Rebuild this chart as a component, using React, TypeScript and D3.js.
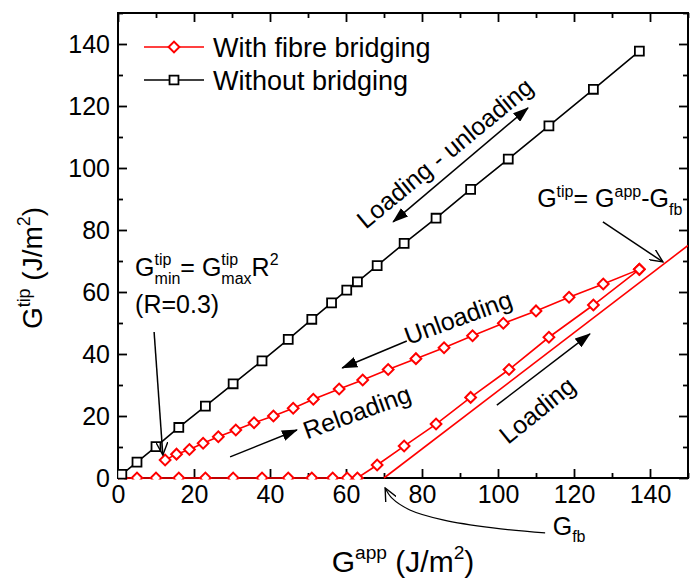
import React, { useEffect, useRef } from "react";
import * as d3 from "d3";

const W = 693;
const H = 583;
const margin = { top: 13, right: 5, bottom: 105, left: 118 };

const xTicks = [0, 20, 40, 60, 80, 100, 120, 140];
const yTicks = [0, 20, 40, 60, 80, 100, 120, 140];
const minorTicks = [10, 30, 50, 70, 90, 110, 130, 150];

// without bridging (loading - unloading)
const noBridgeX = [1, 5, 10, 16, 23, 30.3, 37.9, 44.8, 51, 56.2, 60.2, 63, 68.2, 75.3, 83.7, 92.8, 102.7, 113.4, 125.1, 137.2];
const noBridgeY = [1.2, 5.1, 10.1, 16.3, 23.2, 30.4, 37.8, 44.7, 51.2, 56.5, 60.6, 63.3, 68.5, 75.7, 83.8, 93.1, 102.9, 113.6, 125.4, 137.7];

// with fibre bridging, loading branch
const loadX = [1, 5, 10, 16, 23, 30.3, 37.9, 44.8, 51, 56.5, 60.3, 63, 68.2, 75.3, 83.7, 92.8, 102.9, 113.4, 125.1, 137.2];
const loadY = [0, 0, 0, 0, 0, 0, 0, 0, 0, 0, 0, 0, 4.2, 10.3, 17.4, 26, 35, 45.4, 55.8, 67.3];

// with fibre bridging, unloading / reloading branch
const unloadX = [137.2, 127.7, 118.7, 110, 101.4, 93.3, 85.8, 78.4, 71.1, 64.4, 58.2, 51.4, 46.1, 40.9, 35.8, 31, 26.4, 22.4, 18.8, 15.4, 12.4];
const unloadY = [67.3, 62.6, 58.3, 53.9, 49.9, 45.9, 42, 38.5, 35, 31.6, 28.7, 25.4, 22.5, 20, 17.8, 15.5, 13.3, 11.2, 9.2, 7.7, 5.8];

// G_tip = G_app - G_fb
const fbLineX = [70, 150];
const fbLineY = [0, 75];

// G_fb pointer curve
const fbCurveX = [112.4, 98.7, 85.5, 76.8, 72.1, 70.3];
const fbCurveY = [-17.7, -16.1, -13.5, -10.3, -6.5, -3.2];

const FONT = "'Liberation Sans', Arial, Helvetica, sans-serif";

type Part = { t: string; k?: "sup" | "sub" | "supsub"; t2?: string };

// lays text pieces one after another, measuring each
function richText(g: any, x: number, y: number, parts: Part[], size: number, anchor = "start") {
  const grp = g.append("g");
  let cx = 0;
  const small = size * 0.64;
  const put = (txt: string, dx: number, dy: number, fs: number) => {
    const t = grp.append("text").attr("x", dx).attr("y", dy).attr("font-size", fs).attr("font-family", FONT)
      .attr("fill", "#000").style("white-space", "pre").text(txt);
    return (t.node() as SVGTextElement).getComputedTextLength();
  };
  parts.forEach((p) => {
    if (!p.k) cx += put(p.t, cx, 0, size);
    else if (p.k === "sup") cx += put(p.t, cx, -size * 0.42, small);
    else if (p.k === "sub") cx += put(p.t, cx, size * 0.3, small);
    else {
      const a = put(p.t, cx, -size * 0.42, small);
      const b = put(p.t2 || "", cx, size * 0.32, small);
      cx += Math.max(a, b);
    }
  });
  const off = anchor === "middle" ? -cx / 2 : anchor === "end" ? -cx : 0;
  grp.attr("transform", `translate(${x + off},${y})`);
  return grp;
}

export default function App() {
  const ref = useRef<SVGSVGElement>(null);

  useEffect(() => {
    const svg = d3.select(ref.current);
    svg.selectAll("*").remove();

    const x = d3.scaleLinear().domain([0, 150]).range([margin.left, W - margin.right]);
    const y = d3.scaleLinear().domain([0, 150]).range([H - margin.bottom, margin.top]);
    const x0 = margin.left, x1 = W - margin.right, y0 = H - margin.bottom, y1 = margin.top;

    const defs = svg.append("defs");
    defs.append("clipPath").attr("id", "plotclip").append("rect")
      .attr("x", x0).attr("y", y1).attr("width", x1 - x0).attr("height", y0 - y1 + 1.5);
    defs.append("marker").attr("id", "ahFill").attr("viewBox", "0 0 16 11").attr("refX", 15).attr("refY", 5.5)
      .attr("markerWidth", 16).attr("markerHeight", 11).attr("markerUnits", "userSpaceOnUse").attr("orient", "auto-start-reverse")
      .append("path").attr("d", "M0,0 L16,5.5 L0,11 Z").attr("fill", "#000");
    defs.append("marker").attr("id", "ahOpen").attr("viewBox", "0 0 14 12").attr("refX", 13).attr("refY", 6)
      .attr("markerWidth", 14).attr("markerHeight", 12).attr("markerUnits", "userSpaceOnUse").attr("orient", "auto")
      .append("path").attr("d", "M0,0 L13,6 L0,12").attr("fill", "none").attr("stroke", "#000").attr("stroke-width", 1.4);

    // axes, ticks inward on all four sides
    const styleAxis = (g: any) => {
      g.select(".domain").remove();
      g.selectAll("line").attr("stroke", "#000").attr("stroke-width", 1.8);
      g.selectAll("text").attr("font-size", 25).attr("font-family", FONT).attr("fill", "#000");
    };
    svg.append("g").attr("transform", `translate(0,${y0})`)
      .call(d3.axisBottom(x).tickValues(xTicks).tickSize(-9).tickPadding(7).tickFormat(d3.format("d")) as any).call(styleAxis);
    svg.append("g").attr("transform", `translate(0,${y0})`)
      .call(d3.axisBottom(x).tickValues(minorTicks).tickSize(-5).tickFormat(() => "") as any).call(styleAxis);
    svg.append("g").attr("transform", `translate(0,${y1})`)
      .call(d3.axisTop(x).tickValues(xTicks).tickSize(-9).tickFormat(() => "") as any).call(styleAxis);
    svg.append("g").attr("transform", `translate(0,${y1})`)
      .call(d3.axisTop(x).tickValues(minorTicks).tickSize(-5).tickFormat(() => "") as any).call(styleAxis);
    svg.append("g").attr("transform", `translate(${x0},0)`)
      .call(d3.axisLeft(y).tickValues(yTicks).tickSize(-9).tickPadding(8).tickFormat(d3.format("d")) as any).call(styleAxis);
    svg.append("g").attr("transform", `translate(${x0},0)`)
      .call(d3.axisLeft(y).tickValues(minorTicks).tickSize(-5).tickFormat(() => "") as any).call(styleAxis);
    svg.append("g").attr("transform", `translate(${x1},0)`)
      .call(d3.axisRight(y).tickValues(yTicks).tickSize(-9).tickFormat(() => "") as any).call(styleAxis);
    svg.append("g").attr("transform", `translate(${x1},0)`)
      .call(d3.axisRight(y).tickValues(minorTicks).tickSize(-5).tickFormat(() => "") as any).call(styleAxis);

    svg.append("rect").attr("x", x0).attr("y", y1).attr("width", x1 - x0).attr("height", y0 - y1)
      .attr("fill", "none").attr("stroke", "#000").attr("stroke-width", 2);

    // data
    const plot = svg.append("g").attr("clip-path", "url(#plotclip)");
    const line = d3.line<[number, number]>().x((d) => x(d[0])).y((d) => y(d[1]));
    const zip = (a: number[], b: number[]) => a.map((v, i) => [v, b[i]] as [number, number]);

    const square = d3.symbol().type(d3.symbolSquare).size(80);
    const diamond = d3.symbol().type(d3.symbolSquare).size(58);

    plot.append("path").attr("d", line(zip(fbLineX, fbLineY))).attr("fill", "none").attr("stroke", "#ff0000").attr("stroke-width", 1.6);

    const redSeries = [zip(loadX, loadY), zip(unloadX, unloadY)];
    redSeries.forEach((pts) => {
      plot.append("path").attr("d", line(pts)).attr("fill", "none").attr("stroke", "#ff0000").attr("stroke-width", 1.6);
    });
    redSeries.forEach((pts) => {
      plot.selectAll(null).data(pts).join("path").attr("d", diamond as any)
        .attr("transform", (d) => `translate(${x(d[0])},${y(d[1])}) rotate(45)`)
        .attr("fill", "#fff").attr("stroke", "#ff0000").attr("stroke-width", 2);
    });

    const blk = zip(noBridgeX, noBridgeY);
    plot.append("path").attr("d", line(blk)).attr("fill", "none").attr("stroke", "#000").attr("stroke-width", 1.6);
    plot.selectAll(null).data(blk).join("path").attr("d", square as any)
      .attr("transform", (d) => `translate(${x(d[0])},${y(d[1])})`)
      .attr("fill", "#fff").attr("stroke", "#000").attr("stroke-width", 1.8);

    // legend
    const legend = [
      { label: "With fibre bridging", color: "#ff0000", sym: diamond, rot: 45, sw: 2 },
      { label: "Without bridging", color: "#000", sym: square, rot: 0, sw: 1.8 },
    ];
    legend.forEach((d, i) => {
      const ly = 47 + i * 33;
      svg.append("line").attr("x1", 144).attr("x2", 204).attr("y1", ly).attr("y2", ly).attr("stroke", d.color).attr("stroke-width", 1.6);
      svg.append("path").attr("d", d.sym as any).attr("transform", `translate(174,${ly}) rotate(${d.rot})`)
        .attr("fill", "#fff").attr("stroke", d.color).attr("stroke-width", d.sw);
      svg.append("text").attr("x", 213).attr("y", ly + 9.5).attr("font-size", 27).attr("font-family", FONT).text(d.label);
    });

    // axis titles
    richText(svg, 403, 572, [{ t: "G" }, { t: "app", k: "sup" }, { t: " (J/m" }, { t: "2", k: "sup" }, { t: ")" }], 30, "middle");
    const yt = svg.append("g").attr("transform", `translate(42,268) rotate(-90)`);
    richText(yt, 0, 0, [{ t: "G" }, { t: "tip", k: "sup" }, { t: " (J/m" }, { t: "2", k: "sup" }, { t: ")" }], 28, "middle");

    // annotations
    const arrow = (ax: number, ay: number, bx: number, by: number, head: string, both = false) => {
      const p = svg.append("line").attr("x1", x(ax)).attr("y1", y(ay)).attr("x2", x(bx)).attr("y2", y(by))
        .attr("stroke", "#000").attr("stroke-width", 1.5).attr("marker-end", `url(#${head})`);
      if (both) p.attr("marker-start", `url(#${head})`);
    };
    const rotLabel = (tx: number, ty: number, ang: number, txt: string) => {
      svg.append("text").attr("transform", `translate(${x(tx)},${y(ty)}) rotate(${ang})`)
        .attr("text-anchor", "middle").attr("dy", "0.35em").attr("font-size", 25).attr("font-family", FONT).text(txt);
    };

    rotLabel(86, 104.8, -39.5, "Loading - unloading");
    arrow(72.4, 82.6, 107.9, 119.4, "ahFill", true);

    rotLabel(89.5, 51.8, -20, "Unloading");
    arrow(76, 44.2, 59, 35.5, "ahFill");

    rotLabel(62.9, 21.3, -20, "Reloading");
    arrow(29.5, 6.8, 47.1, 15.5, "ahFill");

    rotLabel(110.3, 21.9, -39, "Loading");
    arrow(99.7, 23.5, 124.2, 46.5, "ahFill");

    richText(svg, x(110.3), y(87.4), [{ t: "G" }, { t: "tip", k: "sup" }, { t: "= G" }, { t: "app", k: "sup" }, { t: "-G" }, { t: "fb", k: "sub" }], 25);
    arrow(127.6, 82.6, 143.4, 69.7, "ahOpen");

    richText(svg, x(4.5), y(65.2), [{ t: "G" }, { t: "tip", k: "supsub", t2: "min" }, { t: "= G" }, { t: "tip", k: "supsub", t2: "max" }, { t: "R" }, { t: "2", k: "sup" }], 25);
    richText(svg, x(4.5), y(53.2), [{ t: "(R=0.3)" }], 25);
    arrow(9.5, 47.1, 11.8, 7.4, "ahOpen");

    richText(svg, x(114.4), y(-18.3), [{ t: "G" }, { t: "fb", k: "sub" }], 25);
    const curve = d3.line<[number, number]>().x((d) => x(d[0])).y((d) => y(d[1])).curve(d3.curveCatmullRom);
    svg.append("path").attr("d", curve(zip(fbCurveX, fbCurveY))).attr("fill", "none").attr("stroke", "#000")
      .attr("stroke-width", 1.2).attr("marker-end", "url(#ahOpen)");
  }, []);

  return (
    <svg ref={ref} width={W} height={H} style={{ position: "absolute", left: 0, top: 0, background: "#fff" }} />
  );
}
